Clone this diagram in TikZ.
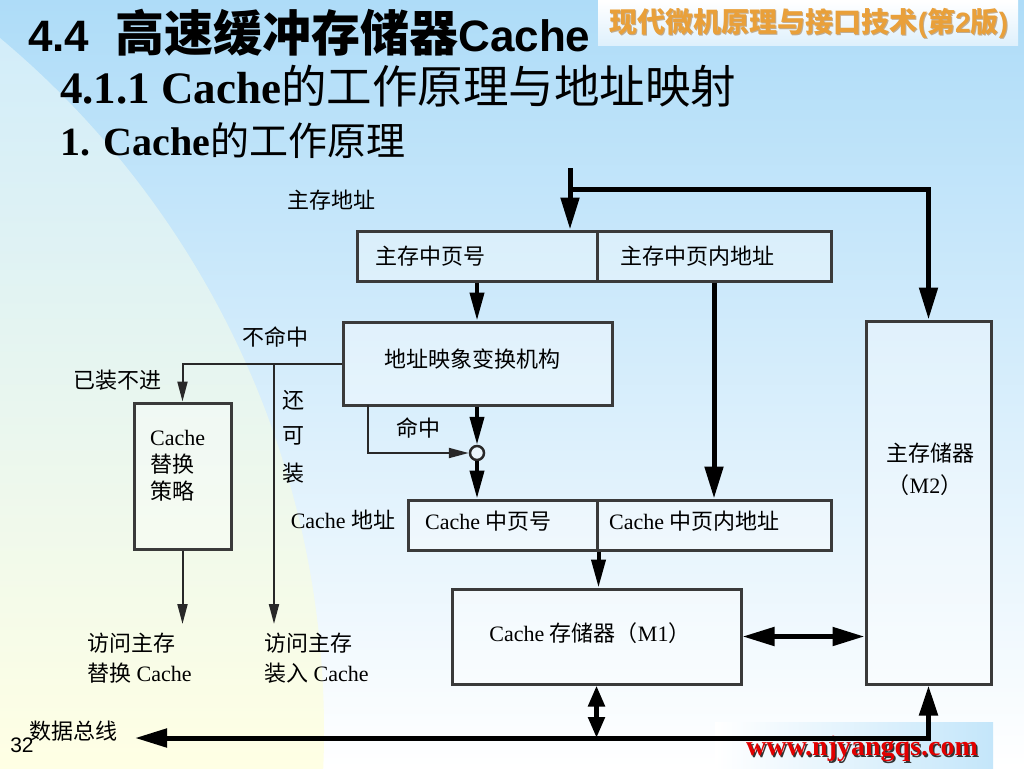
\documentclass[tikz,border=0pt]{standalone}
\usepackage{fontspec}
\setmainfont{Liberation Serif}
\newfontfamily\hei{Noto Sans CJK SC}
\newfontfamily\arialf{Liberation Sans}
\usetikzlibrary{arrows.meta}
\definecolor{skyb}{RGB}{174,220,248}
\definecolor{paleb}{RGB}{208,236,251}
\definecolor{paley}{RGB}{255,255,228}
\definecolor{boxln}{RGB}{58,58,58}
\definecolor{lnc}{RGB}{40,40,40}
\definecolor{hdr}{RGB}{233,160,58}
\definecolor{hdrsh}{RGB}{150,100,40}
\definecolor{urlred}{RGB}{226,0,0}
\definecolor{hdrbot}{RGB}{222,240,252}
\definecolor{band}{RGB}{196,230,250}
\newcommand\zh[1]{{\hei #1}}
\begin{document}
\begin{tikzpicture}[x=1pt,y=-1pt,font=\fontsize{22}{27}\selectfont,
  box/.style={draw=boxln,line width=3pt,fill=white,fill opacity=0.35,text opacity=1,inner sep=0pt},
  lbl/.style={inner sep=0pt,anchor=center},
  thinln/.style={draw=lnc,line width=2pt},
  thinarr/.style={thinln,-{Triangle[length=20pt,width=10pt]}},
  medarr/.style={draw=black,line width=4pt,-{Triangle[length=28pt,width=14pt]}},
  thickln/.style={draw=black,line width=5pt},
  thickarr/.style={thickln,-{Triangle[length=32pt,width=18pt]}}]
% background
\useasboundingbox (0,0) rectangle (1024,768);
\shade[top color=skyb,bottom color=white] (0,0) rectangle (1024,768);
\begin{scope}
  \clip (-579,731) circle (903pt);
  \shade[top color=paleb,bottom color=paley] (0,0) rectangle (1024,768);
\end{scope}
\shade[left color=white,right color=band] (715,722) rectangle (993,768);
\shade[top color=white,bottom color=hdrbot] (598,1) rectangle (1018,46);
% header
\node[lbl,text=hdrsh,opacity=0.5] at (810,24.5) {\hei\bfseries\fontsize{28}{28}\selectfont 现代微机原理与接口技术{\arialf (}第{\arialf 2}版{\arialf )}};
\node[lbl,text=hdr] (hdr) at (809,23) {\hei\bfseries\fontsize{28}{28}\selectfont 现代微机原理与接口技术{\arialf (}第{\arialf 2}版{\arialf )}};
% titles
\node[inner sep=0pt,anchor=base west] (title) at (28,52) {\arialf\bfseries\fontsize{44}{44}\selectfont 4.4\hspace{26pt}{\hei\fontsize{49}{49}\selectfont 高速缓冲存储器}Cache};
\node[inner sep=0pt,anchor=base west] (sub1) at (60,103) {\bfseries\fontsize{45}{45}\selectfont 4.1.1 Cache{\hei\mdseries\fontsize{45.5}{45.5}\selectfont 的工作原理与地址映射}};
\node[inner sep=0pt,anchor=base west] (sub2) at (60,155) {\bfseries\fontsize{40}{40}\selectfont 1. Cache{\hei\mdseries\fontsize{39}{39}\selectfont 的工作原理}};
% boxes
\node[box,minimum width=240pt,minimum height=50pt] (mpage) at (477,256) {};
\node[box,minimum width=234pt,minimum height=50pt] (moff) at (714,256) {};
\node[box,minimum width=269pt,minimum height=83pt] (map) at (477.5,363.5) {};
\node[box,minimum width=97pt,minimum height=146pt] (repl) at (182.5,476) {};
\node[box,minimum width=125pt,minimum height=363pt] (mm) at (928.5,502.5) {};
\node[box,minimum width=189pt,minimum height=50pt] (cpage) at (502.5,525) {};
\node[box,minimum width=234pt,minimum height=50pt] (coff) at (714,525) {};
\node[box,minimum width=289pt,minimum height=95pt] (cm) at (596.5,636.5) {};
\node[circle,draw=lnc,line width=2.5pt,minimum size=14pt,inner sep=0pt,fill=white,fill opacity=0.4] (hit) at (477,453) {};
% box texts
\node[lbl,anchor=west] (tmpage) at (375,256) {\zh{主存中页号}};
\node[lbl,anchor=west] (tmoff) at (620,256) {\zh{主存中页内地址}};
\node[lbl] (tmap) at (472,359) {\zh{地址映象变换机构}};
\node[lbl,anchor=west] (tcpage) at (425,521) {Cache \zh{中页号}};
\node[lbl,anchor=west] (tcoff) at (609,521) {Cache \zh{中页内地址}};
\node[lbl] (tcm) at (590,633) {Cache \zh{存储器（}M1\zh{）}};
\node[lbl] (tmm1) at (930,453) {\zh{主存储器}};
\node[lbl] (tmm2) at (925,485) {\zh{（}M2\zh{）}};
\node[lbl,anchor=west,align=left] (trepl) at (150,466) {Cache\\\zh{替换}\\\zh{策略}};
% free labels
\node[lbl] (laddr) at (331,200) {\zh{主存地址}};
\node[lbl] (lmiss) at (275,337) {\zh{不命中}};
\node[lbl] (lfull) at (117,380) {\zh{已装不进}};
\node[lbl] (lh1) at (293,400) {\zh{还}};
\node[lbl] (lh2) at (293,436) {\zh{可}};
\node[lbl] (lh3) at (293,473) {\zh{装}};
\node[lbl] (lhit) at (418,428) {\zh{命中}};
\node[lbl] (lcaddr) at (343,520) {Cache \zh{地址}};
\node[lbl,anchor=west,align=left,font=\fontsize{22}{30}\selectfont] (lr1) at (87,658) {\zh{访问主存}\\\zh{替换} Cache};
\node[lbl,anchor=west,align=left,font=\fontsize{22}{30}\selectfont] (lr2) at (264,658) {\zh{访问主存}\\\zh{装入} Cache};
\node[lbl] (lbus) at (73,731) {\zh{数据总线}};
\node[lbl] (pgno) at (22,745) {\arialf\fontsize{21}{21}\selectfont 32};
\node[lbl,text=black!80] at (863.5,751) {\bfseries\fontsize{28}{28}\selectfont www.njyangqs.com};
\node[lbl,text=urlred] (url) at (862,749) {\bfseries\fontsize{28}{28}\selectfont www.njyangqs.com};
% connectors
\coordinate (src) at (570,168);
\coordinate (split) at (570,189);
\draw[thickarr] (src) -- (src |- mpage.north);
\draw[thickarr] (split) -| (mm.north);
\draw[medarr] (mpage.south) -- (mpage.south |- map.north);
\draw[thickarr] (moff.south) -- (coff.north);
\draw[thinarr] (map.west) -| (repl.north);
\coordinate (br) at (274,363.5);
\coordinate (loadend) at (274,624);
\draw[thinarr] (br) -- (loadend);
\coordinate (replend) at (182.5,624);
\draw[thinarr] (repl.south) -- (replend);
\draw[medarr] (hit.north |- map.south) -- (hit.north);
\coordinate (hs) at (368,405);
\draw[thinarr] (hs) |- (hit.west);
\draw[medarr] (hit.south) -- (hit.south |- cpage.north);
\draw[medarr] (cpage.south east) -- (cpage.south east |- cm.north);
\draw[thickln,{Triangle[length=32pt,width=18pt]}-{Triangle[length=32pt,width=18pt]}] (cm.east) -- (cm.east -| mm.west);
\coordinate (busm) at (596.5,738);
\draw[thickln,{Triangle[length=21pt,width=16pt]}-{Triangle[length=21pt,width=16pt]}] (cm.south) -- (busm);
\coordinate (busw) at (135,738);
\draw[thickln,{Triangle[length=32pt,width=18pt]}-{Triangle[length=30pt,width=18pt]}] (busw) -| (mm.south);
\end{tikzpicture}
\end{document}
